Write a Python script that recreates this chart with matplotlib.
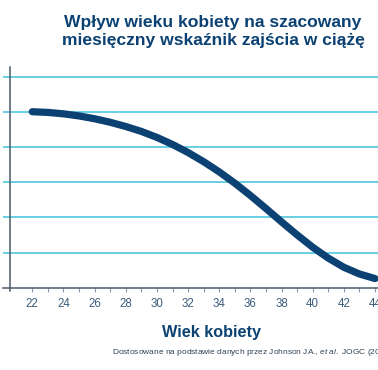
import numpy as np
import matplotlib
matplotlib.use("Agg")
import matplotlib.pyplot as plt

plt.rcParams['font.family'] = ['Liberation Sans', 'DejaVu Sans']
plt.rcParams['mathtext.fontset'] = 'custom'
plt.rcParams['mathtext.rm'] = 'Liberation Sans'
plt.rcParams['mathtext.it'] = 'Liberation Sans:italic'

# Data (relative monthly fecundity, arbitrary units)
age = [22, 23, 24, 25, 26, 27, 28, 29, 30, 31, 32, 33,
       34, 35, 36, 37, 38, 39, 40, 41, 42, 43, 44]
rate = [5.00, 4.98, 4.94, 4.88, 4.80, 4.70, 4.58, 4.44, 4.27, 4.07, 3.84, 3.58,
        3.29, 2.97, 2.62, 2.25, 1.87, 1.50, 1.15, 0.84, 0.58, 0.39, 0.26]
xticks = [22, 24, 26, 28, 30, 32, 34, 36, 38, 40, 42, 44]
grid_levels = [1, 2, 3, 4, 5, 6]

NAVY = '#0c4273'
CYAN = '#3fc2da'
SPINE = '#4a5a6a'
TICKTXT = '#3c5c7c'

fig = plt.figure(figsize=(3.78, 3.70), dpi=100)
ax = fig.add_axes([3 / 378, 0.2143, 375 / 378, 0.6046])

ax.plot(age, rate, color=NAVY, lw=5.2, solid_capstyle='round',
        solid_joinstyle='round', zorder=3)

ax.set_xlim(20.12, 44.19)
ax.set_ylim(-0.085, 6.27)

ax.set_yticks(grid_levels)
ax.set_yticklabels([])
ax.tick_params(axis='y', length=0)
ax.grid(axis='y', color=CYAN, lw=1.1)
ax.set_axisbelow(True)

ax.set_xticks(xticks)
ax.set_xticks(age, minor=True)
ax.tick_params(axis='x', which='both', direction='out', length=3.2,
               width=0.8, color='#8a9aaa', labelsize=8.3,
               labelcolor=TICKTXT, pad=4)

for s in ['top', 'right']:
    ax.spines[s].set_visible(False)
ax.spines['left'].set_position(('data', 20.57))
ax.spines['bottom'].set_position(('data', 0))
for s in ['left', 'bottom']:
    ax.spines[s].set_color(SPINE)
    ax.spines[s].set_linewidth(1.1)

fig.text(213 / 378, 1 - 27 / 370, 'Wpływ wieku kobiety na szacowany',
         ha='center', va='baseline', fontsize=12.6, fontweight='bold',
         color=NAVY)
fig.text(213 / 378, 1 - 45 / 370, 'miesięczny wskaźnik zajścia w ciążę',
         ha='center', va='baseline', fontsize=12.6, fontweight='bold',
         color=NAVY)

fig.text(212 / 378, 1 - 337 / 370, 'Wiek kobiety', ha='center',
         va='baseline', fontsize=11.7, fontweight='bold', color=NAVY)

fig.text(112 / 378, 1 - 354 / 370,
         r'Dostosowane na podstawie danych przez Johnson JA., $\mathit{et\ al.}$ JOGC (2012)',
         ha='left', va='baseline', fontsize=6.0, color='#334455')

fig.savefig('out.png', dpi=100)
